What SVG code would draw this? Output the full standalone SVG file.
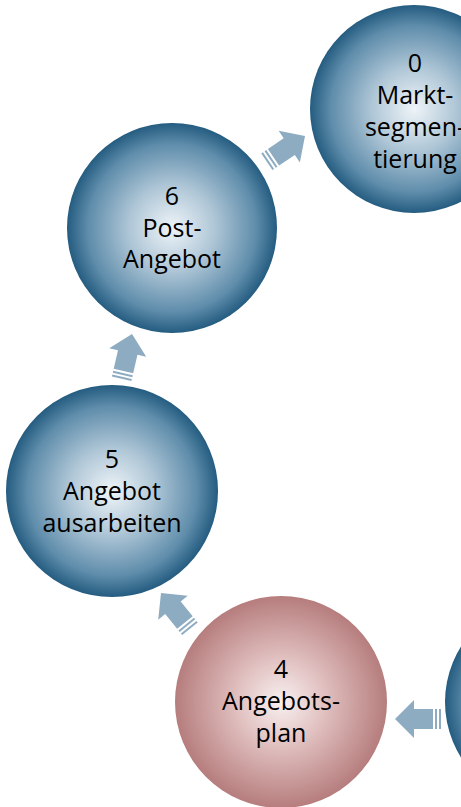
<svg xmlns="http://www.w3.org/2000/svg" width="461" height="807" viewBox="0 0 461 807">
  <defs>
    <radialGradient id="gBlue" cx="50%" cy="50%" r="50%">
      <stop offset="0" stop-color="#eef4f8"/>
      <stop offset="0.4" stop-color="#b0c7d7"/>
      <stop offset="0.8" stop-color="#5f8dab"/>
      <stop offset="1" stop-color="#245c80"/>
    </radialGradient>
    <radialGradient id="gRose" cx="50%" cy="50%" r="50%">
      <stop offset="0" stop-color="#f8f0f0"/>
      <stop offset="0.4" stop-color="#e2c2c2"/>
      <stop offset="0.8" stop-color="#c59494"/>
      <stop offset="1" stop-color="#b67d7d"/>
    </radialGradient>
    <!-- striped block arrow, tip at origin, pointing along +x -->
    <g id="arrow">
      <polygon points="0,0 -19,-19 -19,-10 -38,-10 -38,10 -19,10 -19,19"/>
      <rect x="-42" y="-10" width="2" height="20"/>
      <rect x="-46" y="-10" width="2" height="20"/>
    </g>
  </defs>
  <style>
    .blue { fill: url(#gBlue); }
    .rose { fill: url(#gRose); }
    .lbl { font-family: "Open Sans", "Liberation Sans", sans-serif; font-size: 25px; fill: #000; text-anchor: middle; }
    #connectors use { fill: #8eacc1; }
  </style>

  <g id="connectors">
    <use href="#arrow" transform="translate(305,136) rotate(-34)"/>
    <use href="#arrow" transform="translate(132,334) rotate(-77)"/>
    <use href="#arrow" transform="translate(161,593) rotate(-129)"/>
    <use href="#arrow" transform="translate(395,719) rotate(180)"/>
  </g>

  <g id="node-0">
    <circle class="blue" cx="414" cy="109" r="104"/>
    <text class="lbl" x="415" y="72">0</text>
    <text class="lbl" x="415" y="104">Markt-</text>
    <text class="lbl" x="415" y="136">segmen-</text>
    <text class="lbl" x="415" y="168">tierung</text>
  </g>

  <g id="node-6">
    <circle class="blue" cx="172" cy="228" r="105"/>
    <text class="lbl" x="172" y="205">6</text>
    <text class="lbl" x="172" y="237">Post-</text>
    <text class="lbl" x="172" y="268">Angebot</text>
  </g>

  <g id="node-5">
    <circle class="blue" cx="112" cy="491" r="106"/>
    <text class="lbl" x="112" y="468">5</text>
    <text class="lbl" x="112" y="500">Angebot</text>
    <text class="lbl" x="112" y="532">ausarbeiten</text>
  </g>

  <g id="node-4">
    <circle class="rose" cx="281" cy="702" r="106"/>
    <text class="lbl" x="281" y="678">4</text>
    <text class="lbl" x="281" y="710">Angebots-</text>
    <text class="lbl" x="281" y="742">plan</text>
  </g>

  <g id="node-3">
    <circle class="blue" cx="549" cy="702" r="104"/>
  </g>
</svg>
